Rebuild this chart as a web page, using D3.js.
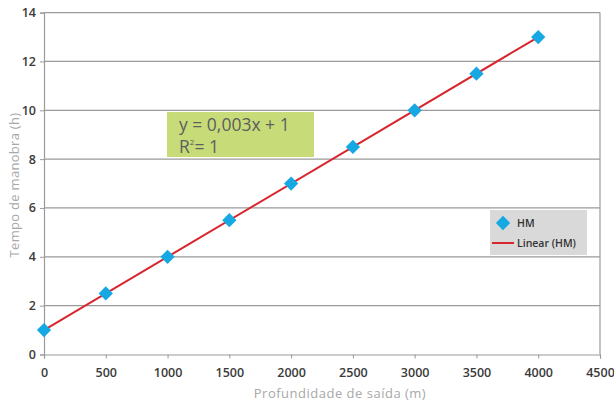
<!DOCTYPE html>
<html><head><meta charset="utf-8">
<script src="https://cdn.jsdelivr.net/npm/d3@7"></script>
<style>body{margin:0;background:#fff}svg{display:block}</style>
</head><body><svg id="c" width="614" height="403"></svg>
<script>
const depths = [0, 500, 1000, 1500, 2000, 2500, 3000, 3500, 4000];
const hours = [1, 2.5, 4, 5.5, 7, 8.5, 10, 11.5, 13];
const xTicks = [0, 500, 1000, 1500, 2000, 2500, 3000, 3500, 4000, 4500];
const yTicks = [0, 2, 4, 6, 8, 10, 12, 14];
const trend = [0, 4000];
const eqLines = ["y = 0,003x + 1", "R"];
const legendLabels = ["HM", "Linear (HM)"];

const svg = d3.select("#c");
const x = d3.scaleLinear().domain([0, 4500]).range([44, 600]);
const y = d3.scaleLinear().domain([0, 14]).range([354.5, 12.6]);
const font = "'Open Sans', sans-serif";

// gridlines
svg.append("g").selectAll("line").data(yTicks.filter(d => d > 0)).join("line")
  .attr("x1", x(0)).attr("x2", x(4500)).attr("y1", d => y(d)).attr("y2", d => y(d))
  .attr("stroke", "#9a9a9a").attr("stroke-width", 1.2);
// right border
svg.append("line").attr("x1", x(4500)).attr("x2", x(4500)).attr("y1", y(0)).attr("y2", y(14))
  .attr("stroke", "#9a9a9a").attr("stroke-width", 1.2);

const xAxis = svg.append("g").attr("transform", `translate(0,${y(0)})`)
  .call(d3.axisBottom(x).tickValues(xTicks).tickSize(4).tickPadding(10).tickFormat(d3.format("d")));
const yAxis = svg.append("g").attr("transform", `translate(${x(0)},0)`)
  .call(d3.axisLeft(y).tickValues(yTicks).tickSize(4).tickPadding(4));
[xAxis, yAxis].forEach(a => {
  a.select(".domain").attr("stroke", "#9a9a9a").attr("stroke-width", 1.2);
  a.selectAll(".tick line").attr("stroke", "#9a9a9a");
  a.selectAll("text").attr("fill", "#3a3a3a").attr("font-size", 12.5).attr("font-family", font).attr("font-weight", 600);
});

// axis titles
svg.append("text").attr("x", 340).attr("y", 398).attr("text-anchor", "middle")
  .attr("font-family", font).attr("font-size", 13).attr("fill", "#a8a8a8").attr("letter-spacing", 0.5)
  .text("Profundidade de saída (m)");
svg.append("text").attr("transform", "translate(19,185) rotate(-90)").attr("text-anchor", "middle")
  .attr("font-family", font).attr("font-size", 13).attr("fill", "#a8a8a8").attr("letter-spacing", 0.3)
  .text("Tempo de manobra (h)");

// equation box
svg.append("rect").attr("x", 167).attr("y", 112).attr("width", 147).attr("height", 45).attr("fill", "#c7dc78");
svg.append("text").attr("x", 179).attr("y", 131).attr("font-family", font).attr("font-size", 17.5).attr("fill", "#5e5e5e").text(eqLines[0]);
const r2 = svg.append("text").attr("x", 179).attr("y", 153).attr("font-family", font).attr("font-size", 17.5).attr("fill", "#5e5e5e");
r2.append("tspan").text(eqLines[1]);
r2.append("tspan").attr("font-size", 8).attr("dy", -8).text("2");
r2.append("tspan").attr("dy", 8).text("= 1");

// trend line
svg.append("line").attr("x1", x(trend[0])).attr("y1", y(1 + 0.003 * trend[0]))
  .attr("x2", x(trend[1])).attr("y2", y(1 + 0.003 * trend[1]))
  .attr("stroke", "#d8262e").attr("stroke-width", 2);

// points
const diamond = d3.symbol().type(d3.symbolDiamond2).size(130);
svg.append("g").selectAll("path").data(depths.map((d, i) => [d, hours[i]])).join("path")
  .attr("d", diamond).attr("transform", d => `translate(${x(d[0])},${y(d[1])})`)
  .attr("fill", "#16a8e2");

// legend
svg.append("rect").attr("x", 490).attr("y", 210).attr("width", 97).attr("height", 45).attr("fill", "#d9d9d9");
svg.append("path").attr("d", d3.symbol().type(d3.symbolDiamond2).size(130)).attr("transform", "translate(503,223)").attr("fill", "#16a8e2");
svg.append("line").attr("x1", 492).attr("x2", 514).attr("y1", 243).attr("y2", 243).attr("stroke", "#d8262e").attr("stroke-width", 2);
svg.append("text").attr("x", 517).attr("y", 227).attr("font-family", font).attr("font-size", 10.5).attr("font-weight", 600).attr("fill", "#333").text(legendLabels[0]);
svg.append("text").attr("x", 517).attr("y", 247).attr("font-family", font).attr("font-size", 10.5).attr("font-weight", 600).attr("fill", "#333").text(legendLabels[1]);
</script></body></html>
